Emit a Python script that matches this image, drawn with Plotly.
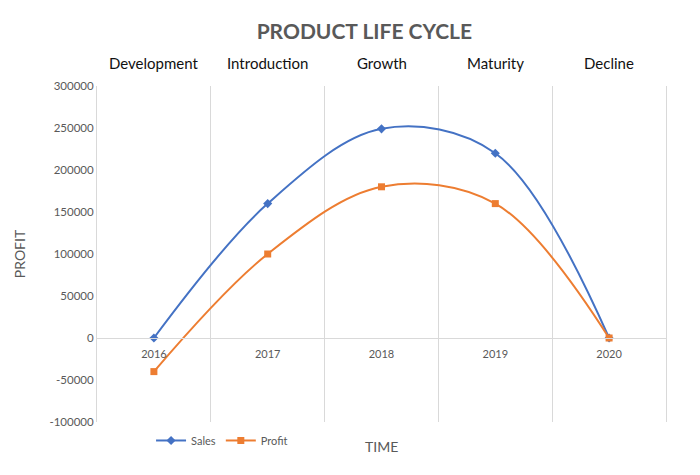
import plotly.graph_objects as go

years = ["2016", "2017", "2018", "2019", "2020"]
stages = ["Development", "Introduction", "Growth", "Maturity", "Decline"]
sales = [0, 160000, 249000, 220000, 0]
profit = [-40000, 100000, 180000, 160000, 0]
y_ticks = [-100000, -50000, 0, 50000, 100000, 150000, 200000, 250000, 300000]
y_tick_text = ["-100000", "-50000", "0", "50000", "100000", "150000", "200000", "250000", "300000"]

FONT = "Lato, 'Open Sans', sans-serif"
GRID = "#d9d9d9"

fig = go.Figure()
fig.add_trace(go.Scatter(
    x=years, y=sales, name="Sales", mode="lines+markers",
    line=dict(color="#4472C4", width=2, shape="spline", smoothing=1),
    marker=dict(symbol="diamond", size=7, color="#4472C4"),
))
fig.add_trace(go.Scatter(
    x=years, y=profit, name="Profit", mode="lines+markers",
    line=dict(color="#ED7D31", width=2, shape="spline", smoothing=1),
    marker=dict(symbol="square", size=7, color="#ED7D31"),
))

annotations = []
for i, st in enumerate(stages):
    annotations.append(dict(x=i, y=1.068, xref="x", yref="paper", text=st,
                            showarrow=False, yanchor="middle",
                            font=dict(family=FONT, size=15, color="#111111")))
annotations.append(dict(x=0.5, y=-0.074, xref="paper", yref="paper", text="TIME",
                        showarrow=False, yanchor="middle",
                        font=dict(family=FONT, size=14, color="#595959")))

fig.update_layout(
    width=692, height=467,
    margin=dict(l=86, r=34, t=78, b=53),
    paper_bgcolor="white", plot_bgcolor="white",
    title=dict(text="<b>PRODUCT LIFE CYCLE</b>", x=0.515, xanchor="center",
               y=0.95, yanchor="middle",
               font=dict(family=FONT, size=21, color="#595959")),
    font=dict(family=FONT, color="#595959"),
    showlegend=True,
    legend=dict(orientation="h", x=0.095, y=-0.055, xanchor="left", yanchor="middle",
                font=dict(family=FONT, size=11, color="#595959"),
                itemwidth=30, bgcolor="rgba(0,0,0,0)"),
    annotations=annotations,
    xaxis=dict(type="category", range=[-0.5, 4.5], tickson="boundaries",
               showgrid=True, gridcolor=GRID, gridwidth=1,
               showline=True, linecolor=GRID, linewidth=1,
               ticks="", ticklabelstandoff=6,
               anchor="free", position=0.25,
               tickfont=dict(family=FONT, size=11, color="#595959"),
               zeroline=False),
    yaxis=dict(range=[-100000, 300000], tickvals=y_ticks, ticktext=y_tick_text,
               showgrid=False, zeroline=False,
               showline=True, mirror=True, linecolor=GRID, linewidth=1, ticks="",
               tickfont=dict(family=FONT, size=11.5, color="#595959"),
               title=dict(text="PROFIT", font=dict(family=FONT, size=14, color="#595959"),
                          standoff=20)),
)

fig.write_html("out.html")
